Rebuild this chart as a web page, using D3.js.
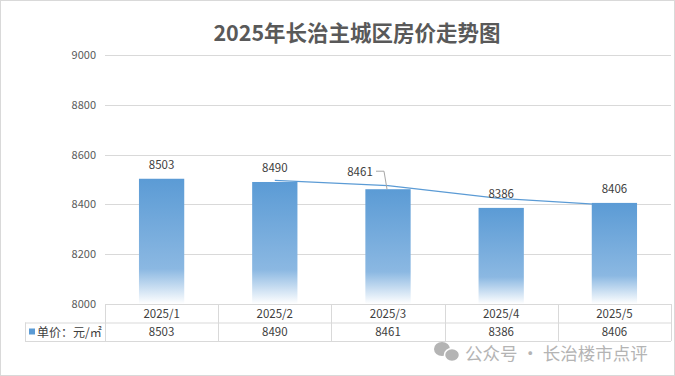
<!DOCTYPE html>
<html>
<head>
<meta charset="utf-8">
<script src="https://cdn.jsdelivr.net/npm/d3@7"></script>
<style>
  body { margin: 0; background: #fff; }
  svg { display: block; font-family: "Microsoft YaHei", "Noto Sans CJK SC", sans-serif; }
</style>
</head>
<body>
<svg id="chart" width="675" height="376"></svg>
<script>
// data
const months = ["2025/1", "2025/2", "2025/3", "2025/4", "2025/5"];
const prices = [8503, 8490, 8461, 8386, 8406];
const yTicks = [8000, 8200, 8400, 8600, 8800, 9000];
const seriesName = "单价：元/㎡";
const title = "2025年长治主城区房价走势图";
const watermark = "公众号 · 长治楼市点评";

const svg = d3.select("#chart");
const W = 675, H = 376;
const plotL = 105, plotR = 671, plotT = 55, plotB = 304;
const rowH = 18.5;

// chart border
svg.append("rect")
    .attr("x", 0.5).attr("y", 0.5)
    .attr("width", W - 1).attr("height", H - 1)
    .attr("fill", "#fff").attr("stroke", "#d9d9d9");

const x = d3.scaleBand().domain(months).range([plotL, plotR])
    .paddingInner(0.6).paddingOuter(0.3);
const xCell = d3.scaleBand().domain(months).range([plotL, plotR]);
const y = d3.scaleLinear().domain([8000, 9000]).range([plotB, plotT]);

// title
svg.append("text")
    .attr("x", 357).attr("y", 41)
    .attr("text-anchor", "middle")
    .attr("font-size", 21.5).attr("font-weight", "bold")
    .attr("fill", "#595959")
    .text(title);

// gridlines + y labels
const yAxis = svg.append("g");
yAxis.selectAll("line").data(yTicks.filter(d => d > 8000)).join("line")
    .attr("x1", plotL).attr("x2", plotR)
    .attr("y1", d => Math.round(y(d)) + 0.5).attr("y2", d => Math.round(y(d)) + 0.5)
    .attr("stroke", "#d9d9d9");
yAxis.selectAll("text").data(yTicks).join("text")
    .attr("x", 96).attr("y", d => y(d) + 4)
    .attr("text-anchor", "end")
    .attr("font-size", 11).attr("fill", "#595959")
    .text(d => d);

// gradient for bars
const grad = svg.append("defs").append("linearGradient")
    .attr("id", "barFill").attr("x1", 0).attr("y1", 0).attr("x2", 0).attr("y2", 1);
grad.append("stop").attr("offset", "0%").attr("stop-color", "#5b9bd5");
grad.append("stop").attr("offset", "72%").attr("stop-color", "#8bb8e2");
grad.append("stop").attr("offset", "100%").attr("stop-color", "#ffffff");

// 2-period moving average trendline (behind the bars)
const ma = prices.slice(1).map((v, i) => ({ m: months[i + 1], v: (v + prices[i]) / 2 }));
svg.append("path")
    .datum(ma)
    .attr("fill", "none")
    .attr("stroke", "#5b9bd5")
    .attr("stroke-width", 1.2)
    .attr("d", d3.line().x(d => xCell(d.m) + xCell.bandwidth() / 2).y(d => y(d.v)));

// bars
svg.append("g").selectAll("rect").data(prices).join("rect")
    .attr("x", (d, i) => x(months[i]))
    .attr("y", d => y(d))
    .attr("width", x.bandwidth())
    .attr("height", d => plotB - y(d))
    .attr("fill", "url(#barFill)");

// value labels
const labels = svg.append("g").attr("font-size", 11.5).attr("fill", "#404040");
prices.forEach((d, i) => {
    const cx = x(months[i]) + x.bandwidth() / 2;
    if (i === 2) {
        labels.append("text")
            .attr("x", cx - 28).attr("y", y(d) - 13)
            .attr("text-anchor", "middle").text(d);
        svg.append("path")
            .attr("d", `M${cx - 12},${y(d) - 18}H${cx - 4}L${cx - 1},${y(d)}`)
            .attr("fill", "none").attr("stroke", "#a6a6a6");
    } else {
        labels.append("text")
            .attr("x", cx).attr("y", y(d) - 10)
            .attr("text-anchor", "middle").text(d);
    }
});

// data table under the plot
const tbl = svg.append("g").attr("stroke", "#d9d9d9").attr("fill", "none");
const r1 = plotB, r2 = plotB + rowH, r3 = plotB + 2 * rowH;
tbl.append("path").attr("d",
    `M${plotL},${r1 + 0.5}H${plotR}` +
    `M25,${r2 + 0.5}H${plotR}` +
    `M25,${r3 + 0.5}H${plotR}` +
    `M25.5,${r2}V${r3}`);
tbl.selectAll("line.col").data(months.concat(["end"])).join("line")
    .attr("x1", (d, i) => Math.round(plotL + i * xCell.step()) + 0.5)
    .attr("x2", (d, i) => Math.round(plotL + i * xCell.step()) + 0.5)
    .attr("y1", r1).attr("y2", r3);

const cells = svg.append("g").attr("font-size", 11.5).attr("fill", "#404040")
    .attr("text-anchor", "middle");
cells.selectAll("text.m").data(months).join("text")
    .attr("x", d => xCell(d) + xCell.bandwidth() / 2).attr("y", r1 + 13.5)
    .text(d => d);
cells.selectAll("text.v").data(prices).join("text")
    .attr("x", (d, i) => xCell(months[i]) + xCell.bandwidth() / 2).attr("y", r2 + 13)
    .text(d => d);

// legend key in table
svg.append("rect").attr("x", 29).attr("y", r2 + 6).attr("width", 6).attr("height", 6)
    .attr("fill", "#5b9bd5");
svg.append("text").attr("x", 37).attr("y", r2 + 14)
    .attr("font-size", 12).attr("fill", "#404040")
    .text(seriesName);

// watermark
const wm = svg.append("g").attr("fill", "#b4b4b4");
wm.append("ellipse").attr("cx", 442).attr("cy", 349).attr("rx", 8).attr("ry", 7);
wm.append("ellipse").attr("cx", 452).attr("cy", 355).attr("rx", 7.5).attr("ry", 6.5)
    .attr("stroke", "#fff").attr("stroke-width", 1.5);
wm.append("text").attr("x", 465).attr("y", 359.5)
    .attr("font-size", 17.5)
    .text(watermark);
</script>
</body>
</html>
